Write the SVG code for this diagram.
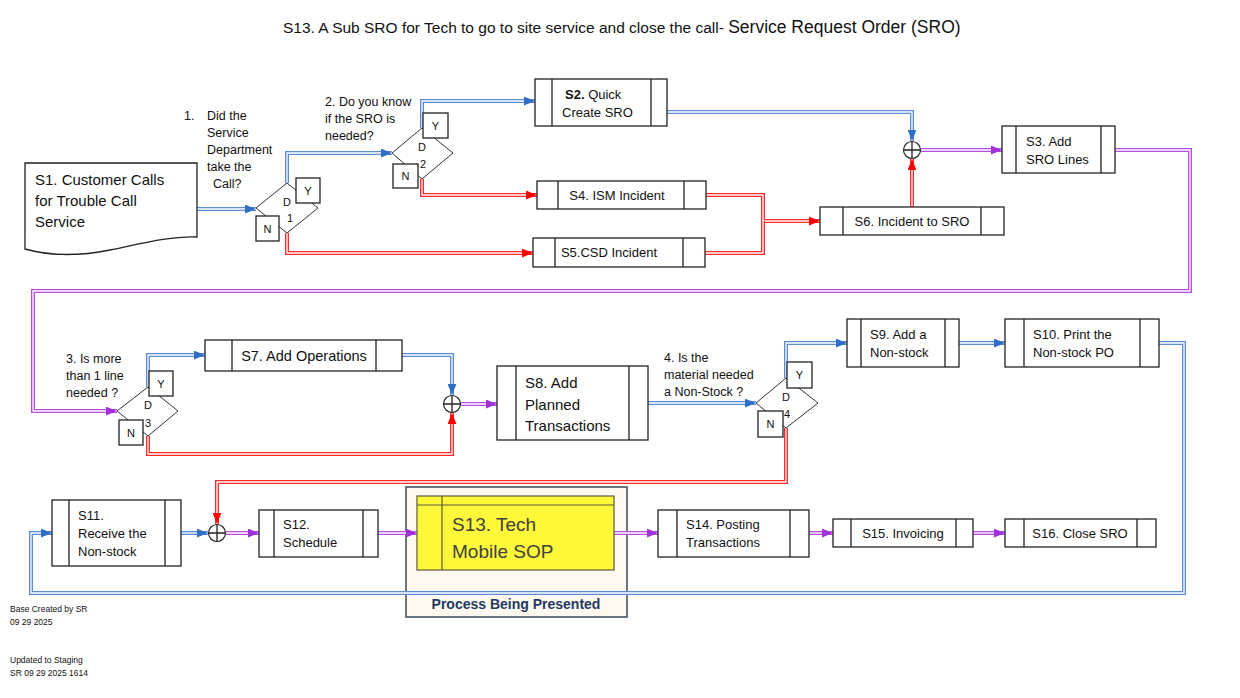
<svg xmlns="http://www.w3.org/2000/svg" width="1240" height="698" viewBox="0 0 1240 698">
<style>
text{font-family:"Liberation Sans",Arial,sans-serif;fill:#111}
.box{fill:#fff;stroke:#222;stroke-width:1.3}
.bar{stroke:#222;stroke-width:1.3;fill:none}
.t13{font-size:13px}
.t15{font-size:15px}
.dl{font-size:12.5px}
.yn{font-size:11px;text-anchor:middle}
.dia{fill:#fff;stroke:#333;stroke-width:1}
.o{fill:none;stroke-width:4;stroke-linejoin:miter}
.i{fill:none;stroke:#fff;stroke-width:1.3}
.ob{stroke:#5B8AD6}
.or{stroke:#FF2A2A}
.op{stroke:#B54FE0}
.hb{marker-end:url(#ab)}
.hr{marker-end:url(#ar)}
.hp{marker-end:url(#ap)}
.jn{fill:#fff;stroke:#222;stroke-width:1.2}
.foot{font-size:8.5px}
</style>
<defs>
<marker id="ab" viewBox="0 0 10 8" refX="10" refY="4" markerWidth="11" markerHeight="9" markerUnits="userSpaceOnUse" orient="auto"><path d="M0,0 L10,4 L0,8 z" fill="#2F6FC8"/></marker>
<marker id="ar" viewBox="0 0 10 8" refX="10" refY="4" markerWidth="11" markerHeight="9" markerUnits="userSpaceOnUse" orient="auto"><path d="M0,0 L10,4 L0,8 z" fill="#FF0000"/></marker>
<marker id="ap" viewBox="0 0 10 8" refX="10" refY="4" markerWidth="11" markerHeight="9" markerUnits="userSpaceOnUse" orient="auto"><path d="M0,0 L10,4 L0,8 z" fill="#A030D8"/></marker>
</defs>
<rect width="1240" height="698" fill="#fff"/>

<text x="283" y="33" style="font-size:15.5px">S13. A Sub SRO for Tech to go to site service and close the call- <tspan style="font-size:17.5px">Service Request Order (SRO)</tspan></text>

<g id="highlight">
<rect x="406" y="487" width="221" height="130" fill="#FFF9EF" stroke="#3A4A5C" stroke-width="1.5"/>
<text x="516" y="609" text-anchor="middle" style="font-size:14px;font-weight:bold;fill:#1F3864">Process Being Presented</text>
</g>

<g id="connectors">
<path class="o ob" d="M197,209 H256"/><path class="i hb" d="M197,209 H256"/>
<path class="o ob" d="M287,183 V153 H392"/><path class="i hb" d="M287,183 V153 H392"/>
<path class="o or" d="M287,233 V253 H533"/><path class="i hr" d="M287,233 V253 H533"/>
<path class="o ob" d="M422,128 V101 H535"/><path class="i hb" d="M422,128 V101 H535"/>
<path class="o or" d="M422,179 V195 H537"/><path class="i hr" d="M422,179 V195 H537"/>
<path class="o ob" d="M667,112 H912 V141"/><path class="i hb" d="M667,112 H912 V141"/>
<path class="o or" d="M706,195 H763 V221 H820"/><path class="i hr" d="M706,195 H763 V221 H820"/>
<path class="o or" d="M705,253 H763 V221"/><path class="i" d="M705,253 H763 V221"/>
<path class="o or" d="M912,207 V159"/><path class="i hr" d="M912,207 V159"/>
<path class="o op" d="M921,150 H1002"/><path class="i hp" d="M921,150 H1002"/>
<path class="o op" d="M1115,150 H1190 V291 H33 V411 H117"/><path class="i hp" d="M1115,150 H1190 V291 H33 V411 H117"/>
<path class="o ob" d="M148,387 V355 H205"/><path class="i hb" d="M148,387 V355 H205"/>
<path class="o ob" d="M402,355 H452 V395"/><path class="i hb" d="M402,355 H452 V395"/>
<path class="o or" d="M148,436 V454 H452 V413"/><path class="i hr" d="M148,436 V454 H452 V413"/>
<path class="o op" d="M461,404 H497"/><path class="i hp" d="M461,404 H497"/>
<path class="o ob" d="M648,403 H756"/><path class="i hb" d="M648,403 H756"/>
<path class="o ob" d="M786,378 V343 H847"/><path class="i hb" d="M786,378 V343 H847"/>
<path class="o ob" d="M959,343 H1005"/><path class="i hb" d="M959,343 H1005"/>
<path class="o ob" d="M1159,343 H1184 V593 H31 V533 H52"/><path class="i hb" d="M1159,343 H1184 V593 H31 V533 H52"/>
<path class="o or" d="M786,428 V482 H217 V524"/><path class="i hr" d="M786,428 V482 H217 V524"/>
<path class="o ob" d="M181,533 H208"/><path class="i hb" d="M181,533 H208"/>
<path class="o op" d="M226,533 H259"/><path class="i hp" d="M226,533 H259"/>
<path class="o op" d="M378,533 H417"/><path class="i hp" d="M378,533 H417"/>
<path class="o op" d="M614,533 H658"/><path class="i hp" d="M614,533 H658"/>
<path class="o op" d="M809,533 H833"/><path class="i hp" d="M809,533 H833"/>
<path class="o op" d="M973,533 H1005"/><path class="i hp" d="M973,533 H1005"/>
</g>

<g id="J1"><circle class="jn" cx="912" cy="150" r="8.5"/><path class="bar" d="M903.5,150 H920.5 M912,141.5 V158.5"/></g>
<g id="J2"><circle class="jn" cx="452" cy="404" r="8.5"/><path class="bar" d="M443.5,404 H460.5 M452,395.5 V412.5"/></g>
<g id="J3"><circle class="jn" cx="217" cy="533" r="8.5"/><path class="bar" d="M208.5,533 H225.5 M217,524.5 V541.5"/></g>

<g id="S1">
<path class="box" d="M25,163 H197 V237 C170,236 140,244 110,250 C80,256 50,256 25,249 Z"/>
<text class="t15" x="35" y="185">S1. Customer Calls</text>
<text class="t15" x="35" y="206">for Trouble Call</text>
<text class="t15" x="35" y="227">Service</text>
</g>

<g id="D1">
<text class="dl" x="184" y="120">1.</text>
<text class="dl" x="207" y="120">Did the</text>
<text class="dl" x="207" y="137">Service</text>
<text class="dl" x="207" y="154">Department</text>
<text class="dl" x="207" y="171">take the</text>
<text class="dl" x="213" y="188">Call?</text>
<path class="dia" d="M256,208 L287,183 L318,208 L287,233 Z"/>
<text class="yn" x="287" y="206">D</text>
<text class="yn" x="290" y="222">1</text>
<rect class="box" x="296" y="178" width="24" height="25"/><text class="yn" x="308" y="195">Y</text>
<rect class="box" x="256" y="216" width="23" height="25"/><text class="yn" x="267.5" y="233">N</text>
</g>

<g id="D2">
<text class="dl" x="325" y="106">2. Do you know</text>
<text class="dl" x="325" y="123">if the SRO is</text>
<text class="dl" x="325" y="140">needed?</text>
<path class="dia" d="M392,153 L422,128 L453,153 L422,179 Z"/>
<text class="yn" x="422" y="151">D</text>
<text class="yn" x="423" y="168">2</text>
<rect class="box" x="423" y="113" width="25" height="25"/><text class="yn" x="435.5" y="130">Y</text>
<rect class="box" x="393" y="164" width="25" height="24"/><text class="yn" x="405.5" y="180">N</text>
</g>

<g id="S2">
<rect class="box" x="535" y="79" width="132" height="47"/>
<path class="bar" d="M552,79 V126 M651,79 V126"/>
<text class="t13" x="565" y="99"><tspan font-weight="bold">S2.</tspan> Quick</text>
<text class="t13" x="562" y="117">Create SRO</text>
</g>

<g id="S4">
<rect class="box" x="537" y="181" width="169" height="28"/>
<path class="bar" d="M558,181 V209 M684,181 V209"/>
<text class="t13" x="617" y="200" text-anchor="middle">S4. ISM Incident</text>
</g>

<g id="S5">
<rect class="box" x="533" y="238" width="172" height="29"/>
<path class="bar" d="M555,238 V267 M683,238 V267"/>
<text class="t13" x="609" y="257" text-anchor="middle">S5.CSD Incident</text>
</g>

<g id="S6">
<rect class="box" x="820" y="207" width="184" height="28"/>
<path class="bar" d="M843,207 V235 M981,207 V235"/>
<text class="t13" x="912" y="226" text-anchor="middle">S6. Incident to SRO</text>
</g>

<g id="S3">
<rect class="box" x="1002" y="126" width="113" height="47"/>
<path class="bar" d="M1016,126 V173 M1101,126 V173"/>
<text class="t13" x="1026" y="146">S3. Add</text>
<text class="t13" x="1026" y="164">SRO Lines</text>
</g>

<g id="D3">
<text class="dl" x="66" y="363">3. Is more</text>
<text class="dl" x="66" y="380">than 1 line</text>
<text class="dl" x="66" y="397">needed ?</text>
<path class="dia" d="M117,411 L148,387 L178,411 L148,436 Z"/>
<text class="yn" x="148" y="409">D</text>
<text class="yn" x="148" y="427">3</text>
<rect class="box" x="149" y="371" width="24" height="25"/><text class="yn" x="161" y="388">Y</text>
<rect class="box" x="119" y="420" width="24" height="25"/><text class="yn" x="131" y="437">N</text>
</g>

<g id="S7">
<rect class="box" x="205" y="340" width="197" height="31"/>
<path class="bar" d="M232,340 V371 M376,340 V371"/>
<text x="304" y="361" text-anchor="middle" style="font-size:14.5px">S7. Add Operations</text>
</g>

<g id="S8">
<rect class="box" x="497" y="366" width="151" height="74"/>
<path class="bar" d="M516,366 V440 M629,366 V440"/>
<text class="t15" x="525" y="388">S8. Add</text>
<text class="t15" x="525" y="410">Planned</text>
<text class="t15" x="525" y="431">Transactions</text>
</g>

<g id="D4">
<text class="dl" x="664" y="362">4. Is the</text>
<text class="dl" x="664" y="379">material needed</text>
<text class="dl" x="664" y="396">a Non-Stock ?</text>
<path class="dia" d="M756,403 L786,378 L818,403 L786,428 Z"/>
<text class="yn" x="786" y="401">D</text>
<text class="yn" x="787" y="418">4</text>
<rect class="box" x="787" y="362" width="25" height="26"/><text class="yn" x="799.5" y="379">Y</text>
<rect class="box" x="758" y="411" width="25" height="26"/><text class="yn" x="770.5" y="428">N</text>
</g>

<g id="S9">
<rect class="box" x="847" y="319" width="112" height="48"/>
<path class="bar" d="M861,319 V367 M945,319 V367"/>
<text class="t13" x="870" y="339">S9. Add a</text>
<text class="t13" x="870" y="357">Non-stock</text>
</g>

<g id="S10">
<rect class="box" x="1005" y="319" width="154" height="48"/>
<path class="bar" d="M1024,319 V367 M1140,319 V367"/>
<text class="t13" x="1033" y="339">S10. Print the</text>
<text class="t13" x="1033" y="357">Non-stock PO</text>
</g>

<g id="S11">
<rect class="box" x="52" y="500" width="129" height="66"/>
<path class="bar" d="M69,500 V566 M165,500 V566"/>
<text class="t13" x="78" y="520">S11.</text>
<text class="t13" x="78" y="538">Receive the</text>
<text class="t13" x="78" y="556">Non-stock</text>
</g>

<g id="S12">
<rect class="box" x="259" y="510" width="119" height="47"/>
<path class="bar" d="M274,510 V557 M363,510 V557"/>
<text class="t13" x="283" y="529">S12.</text>
<text class="t13" x="283" y="547">Schedule</text>
</g>

<g id="S13">
<rect x="417" y="496" width="197" height="74" fill="#FFF93A" stroke="#5A5A3A" stroke-width="1.2"/>
<path d="M417,505 H614 M442,496 V570" stroke="#5A5A3A" stroke-width="1.2" fill="none"/>
<text x="452" y="531" style="font-size:19px;fill:#404040">S13. Tech</text>
<text x="452" y="558" style="font-size:19px;fill:#404040">Mobile SOP</text>
</g>

<g id="S14">
<rect class="box" x="658" y="510" width="151" height="47"/>
<path class="bar" d="M677,510 V557 M790,510 V557"/>
<text class="t13" x="686" y="529">S14. Posting</text>
<text class="t13" x="686" y="547">Transactions</text>
</g>

<g id="S15">
<rect class="box" x="833" y="519" width="140" height="28"/>
<path class="bar" d="M851,519 V547 M956,519 V547"/>
<text class="t13" x="903" y="538" text-anchor="middle">S15. Invoicing</text>
</g>

<g id="S16">
<rect class="box" x="1005" y="519" width="151" height="28"/>
<path class="bar" d="M1024,519 V547 M1137,519 V547"/>
<text class="t13" x="1080" y="538" text-anchor="middle">S16. Close SRO</text>
</g>

<g id="notes">
<text class="foot" x="10" y="612">Base Created by SR</text>
<text class="foot" x="10" y="625">09 29 2025</text>
<text class="foot" x="10" y="663">Updated to Staging</text>
<text class="foot" x="10" y="676">SR 09 29 2025 1614</text>
</g>
</svg>
